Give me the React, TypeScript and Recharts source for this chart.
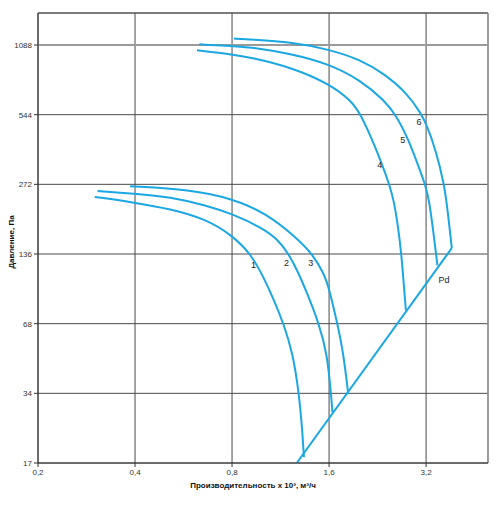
import React from 'react';
import {
  ComposedChart,
  Line,
  Scatter,
  XAxis,
  YAxis,
  CartesianGrid,
  ReferenceLine,
} from 'recharts';

const X_TICKS = [0.2, 0.4, 0.8, 1.6, 3.2];
const Y_TICKS = [17, 34, 68, 136, 272, 544, 1088];
const X_DOMAIN = [0.2, 4.98];
const Y_DOMAIN = [17, 1496];

const curve1 = [
  [0.3, 240], [0.398, 227], [0.515, 213], [0.661, 193], [0.8, 164], [0.916, 136],
  [1.002, 108], [1.08, 85.8], [1.156, 68], [1.236, 50.5], [1.29, 34], [1.318, 24.7],
  [1.337, 18],
];
const curve2 = [
  [0.306, 254.5], [0.398, 248], [0.515, 240], [0.661, 221], [0.8, 203], [0.991, 176.5],
  [1.105, 158.2], [1.2, 136], [1.275, 115.6], [1.37, 91.7], [1.488, 68], [1.578, 50.5],
  [1.622, 34], [1.639, 28.2],
];
const curve3 = [
  [0.386, 266.7], [0.594, 258], [0.8, 236], [1.016, 205], [1.275, 159], [1.42, 136],
  [1.543, 112], [1.601, 96.4], [1.698, 68], [1.773, 50.6], [1.835, 33.7],
];
const curve4 = [
  [0.623, 1032], [0.8, 991], [0.913, 962], [1.215, 874], [1.599, 741], [1.868, 628],
  [2.006, 546], [2.181, 421], [2.343, 329], [2.461, 271], [2.541, 232], [2.615, 181],
  [2.678, 141], [2.769, 77.7],
];
const curve5 = [
  [0.633, 1095], [0.8, 1077], [0.913, 1066], [1.215, 998], [1.599, 902], [2.006, 766],
  [2.37, 628], [2.578, 544], [2.829, 421], [3.006, 335], [3.18, 272], [3.272, 232],
  [3.372, 168.7], [3.47, 121.5],
];
const curve6 = [
  [0.81, 1160], [0.913, 1148], [1.215, 1121], [1.599, 1042], [2.006, 939], [2.37, 818],
  [2.803, 671], [3.083, 550], [3.203, 498], [3.432, 382], [3.643, 272], [3.733, 210],
  [3.845, 144.2],
];
const pdLine = [
  [1.27, 17], [3.845, 144.2],
];

const curveLabels = ['1', '2', '3', '4', '5', '6', 'Pd'];
const labelX = [0.932, 1.181, 1.403, 2.299, 2.71, 3.04, 3.64];
const labelY = [121.5, 124, 124, 329, 421, 504, 104.7];

const toPts = (arr: number[][]) => arr.map(([x, y]) => ({ x, y }));
const series = [curve1, curve2, curve3, curve4, curve5, curve6, pdLine].map(toPts);
const labelData = curveLabels.map((t, i) => ({ x: labelX[i], y: labelY[i], t }));

const BLUE = '#1ba7e2';
const FONT = '"Liberation Sans", Arial, sans-serif';

const fmt = (v: number) => String(v).replace('.', ',');

const LabelShape = (props: any) => {
  const { cx, cy, payload } = props;
  return (
    <text
      x={cx}
      y={cy}
      textAnchor="middle"
      dominantBaseline="central"
      fontSize={9}
      fontFamily={FONT}
      fill="#222"
    >
      {payload.t}
    </text>
  );
};

export default function App() {
  return (
    <div style={{ position: 'absolute', left: 0, top: 0, width: 500, height: 505, background: '#fff' }}>
      <ComposedChart
        width={500}
        height={505}
        margin={{ top: 13, right: 12, bottom: 12, left: 0 }}
      >
        <CartesianGrid stroke="#4a4a4a" strokeWidth={1} />
        <XAxis
          dataKey="x"
          type="number"
          scale="log"
          domain={X_DOMAIN}
          allowDataOverflow
          ticks={X_TICKS}
          tickFormatter={fmt}
          height={30}
          tickSize={4}
          tickMargin={2}
          axisLine={{ stroke: '#333' }}
          tickLine={{ stroke: '#333' }}
          tick={{ fontSize: 8, fill: '#333', fontFamily: FONT }}
          interval={0}
        />
        <YAxis
          dataKey="y"
          type="number"
          scale="log"
          domain={Y_DOMAIN}
          allowDataOverflow
          ticks={Y_TICKS}
          width={38}
          tickSize={4}
          tickMargin={2}
          axisLine={{ stroke: '#333' }}
          tickLine={{ stroke: '#333' }}
          tick={{ fontSize: 8, fill: '#333', fontFamily: FONT }}
          interval={0}
        />
        <ReferenceLine y={Y_DOMAIN[1]} stroke="#555" strokeWidth={1} />
        <ReferenceLine x={X_DOMAIN[1]} stroke="#999" strokeWidth={1.5} />
        <ReferenceLine y={1088} stroke="#9a9a9a" strokeWidth={2} />
        {series.map((d, i) => (
          <Line
            key={i}
            data={d}
            dataKey="y"
            type={i === 6 ? 'linear' : 'basis'}
            stroke={BLUE}
            strokeWidth={2}
            dot={false}
            activeDot={false}
            isAnimationActive={false}
          />
        ))}
        <Scatter
          data={labelData}
          dataKey="y"
          shape={<LabelShape />}
          isAnimationActive={false}
        />
      </ComposedChart>
      <svg
        width={500}
        height={505}
        style={{ position: 'absolute', left: 0, top: 0, pointerEvents: 'none' }}
      >
        <text
          x={253}
          y={485}
          textAnchor="middle"
          dominantBaseline="central"
          fontSize={8}
          fontWeight="bold"
          fontFamily={FONT}
          fill="#111"
        >
          Производительность x 10³, м³/ч
        </text>
        <text
          x={11}
          y={242}
          textAnchor="middle"
          dominantBaseline="central"
          fontSize={8}
          fontWeight="bold"
          fontFamily={FONT}
          fill="#111"
          transform="rotate(-90 11 242)"
        >
          Давление, Па
        </text>
      </svg>
    </div>
  );
}
